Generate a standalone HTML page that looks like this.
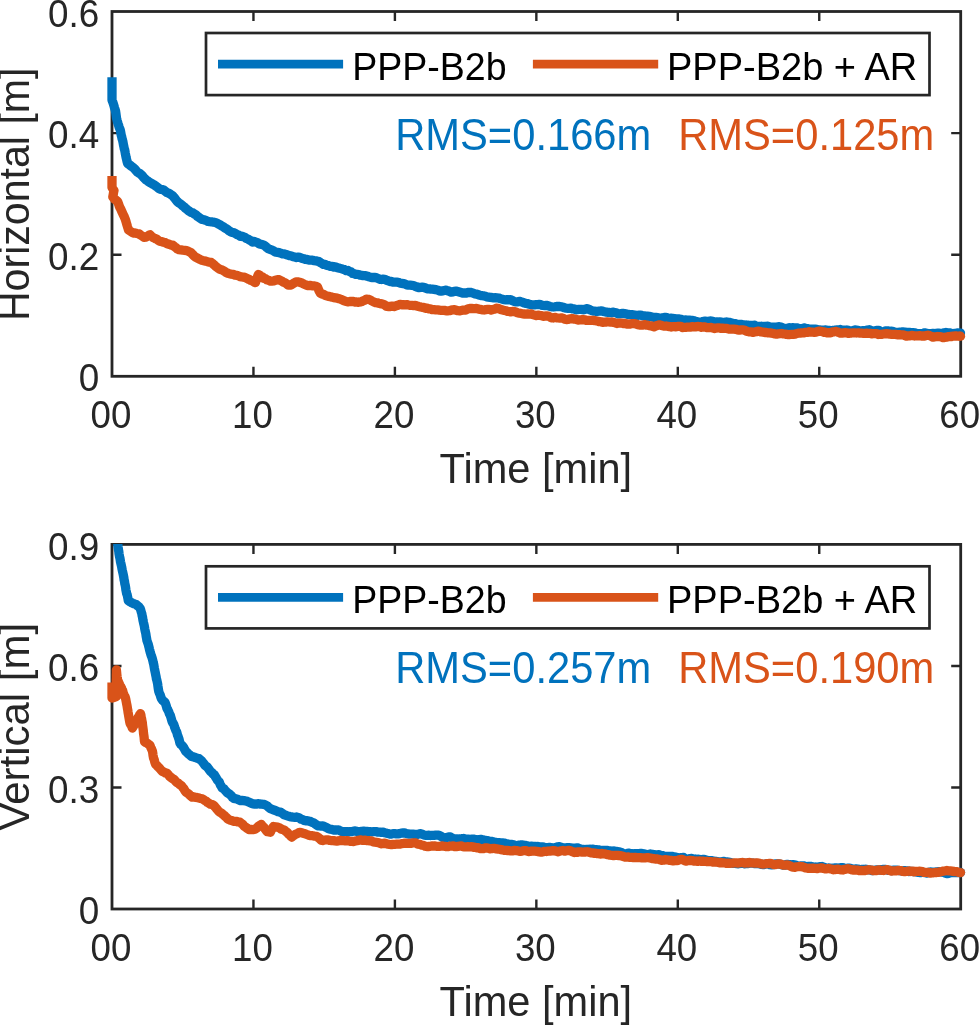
<!DOCTYPE html><html><head><meta charset="utf-8"><style>html,body{margin:0;padding:0;background:#fff;overflow:hidden}svg{display:block;will-change:transform}text{font-family:"Liberation Sans",sans-serif}</style></head><body>
<svg width="979" height="1025" viewBox="0 0 979 1025">
<rect width="979" height="1025" fill="#fff"/>
<defs>
<clipPath id="c0"><rect x="100" y="11.0" width="870.7" height="366.3"/></clipPath>
<clipPath id="c1"><rect x="100" y="543.9" width="870.7" height="366.1"/></clipPath>
</defs>
<path d="M253.45 376.30V366.80M253.45 11.50V21.00M394.90 376.30V366.80M394.90 11.50V21.00M536.35 376.30V366.80M536.35 11.50V21.00M677.80 376.30V366.80M677.80 11.50V21.00M819.25 376.30V366.80M819.25 11.50V21.00M112.00 254.70H121.50M960.70 254.70H951.20M112.00 133.10H121.50M960.70 133.10H951.20" stroke="#262626" stroke-width="2.4" fill="none"/>
<rect x="112.00" y="11.50" width="848.70" height="364.80" fill="none" stroke="#262626" stroke-width="2.8"/>
<text transform="translate(99.3 391.40) scale(0.97 1)" font-size="38" fill="#262626" text-anchor="end">0</text>
<text transform="translate(99.3 269.80) scale(0.97 1)" font-size="38" fill="#262626" text-anchor="end">0.2</text>
<text transform="translate(99.3 148.20) scale(0.97 1)" font-size="38" fill="#262626" text-anchor="end">0.4</text>
<text transform="translate(99.3 26.60) scale(0.97 1)" font-size="38" fill="#262626" text-anchor="end">0.6</text>
<text transform="translate(111.00 428.30) scale(0.965 1)" font-size="38" fill="#262626" text-anchor="middle">00</text>
<text transform="translate(252.45 428.30) scale(0.965 1)" font-size="38" fill="#262626" text-anchor="middle">10</text>
<text transform="translate(393.90 428.30) scale(0.965 1)" font-size="38" fill="#262626" text-anchor="middle">20</text>
<text transform="translate(535.35 428.30) scale(0.965 1)" font-size="38" fill="#262626" text-anchor="middle">30</text>
<text transform="translate(676.80 428.30) scale(0.965 1)" font-size="38" fill="#262626" text-anchor="middle">40</text>
<text transform="translate(818.25 428.30) scale(0.965 1)" font-size="38" fill="#262626" text-anchor="middle">50</text>
<text transform="translate(959.70 428.30) scale(0.965 1)" font-size="38" fill="#262626" text-anchor="middle">60</text>
<text transform="translate(535.85 482.80) scale(0.99 1)" font-size="42" fill="#262626" text-anchor="middle">Time [min]</text>
<text transform="translate(29.4 194.30) rotate(-90) scale(0.979 1)" font-size="42" fill="#262626" text-anchor="middle">Horizontal [m]</text>
<rect x="206" y="33.00" width="723.5" height="62.1" fill="#fff" stroke="#262626" stroke-width="2.7"/>
<path d="M218 64.10H343.1" stroke="#0072BD" stroke-width="8.7"/>
<path d="M532.9 64.10H658.2" stroke="#D95319" stroke-width="8.7"/>
<text transform="translate(352.2 79.80) scale(0.988 1)" font-size="38" fill="#000">PPP-B2b</text>
<text x="667" y="79.80" font-size="38" fill="#000">PPP-B2b + AR</text>
<text transform="translate(395.2 150.00) scale(0.993 1.05)" font-size="42" fill="#0072BD">RMS=0.166m</text>
<text transform="translate(678.2 150.00) scale(0.993 1.05)" font-size="42" fill="#D95319">RMS=0.125m</text>
<path d="M253.45 909.00V899.50M253.45 544.40V553.90M394.90 909.00V899.50M394.90 544.40V553.90M536.35 909.00V899.50M536.35 544.40V553.90M677.80 909.00V899.50M677.80 544.40V553.90M819.25 909.00V899.50M819.25 544.40V553.90M112.00 787.47H121.50M960.70 787.47H951.20M112.00 665.93H121.50M960.70 665.93H951.20" stroke="#262626" stroke-width="2.4" fill="none"/>
<rect x="112.00" y="544.40" width="848.70" height="364.60" fill="none" stroke="#262626" stroke-width="2.8"/>
<text transform="translate(99.3 924.10) scale(0.97 1)" font-size="38" fill="#262626" text-anchor="end">0</text>
<text transform="translate(99.3 802.57) scale(0.97 1)" font-size="38" fill="#262626" text-anchor="end">0.3</text>
<text transform="translate(99.3 681.03) scale(0.97 1)" font-size="38" fill="#262626" text-anchor="end">0.6</text>
<text transform="translate(99.3 559.50) scale(0.97 1)" font-size="38" fill="#262626" text-anchor="end">0.9</text>
<text transform="translate(111.00 961.00) scale(0.965 1)" font-size="38" fill="#262626" text-anchor="middle">00</text>
<text transform="translate(252.45 961.00) scale(0.965 1)" font-size="38" fill="#262626" text-anchor="middle">10</text>
<text transform="translate(393.90 961.00) scale(0.965 1)" font-size="38" fill="#262626" text-anchor="middle">20</text>
<text transform="translate(535.35 961.00) scale(0.965 1)" font-size="38" fill="#262626" text-anchor="middle">30</text>
<text transform="translate(676.80 961.00) scale(0.965 1)" font-size="38" fill="#262626" text-anchor="middle">40</text>
<text transform="translate(818.25 961.00) scale(0.965 1)" font-size="38" fill="#262626" text-anchor="middle">50</text>
<text transform="translate(959.70 961.00) scale(0.965 1)" font-size="38" fill="#262626" text-anchor="middle">60</text>
<text transform="translate(535.85 1015.50) scale(0.99 1)" font-size="42" fill="#262626" text-anchor="middle">Time [min]</text>
<text transform="translate(29.4 726.70) rotate(-90) scale(1.000 1)" font-size="42" fill="#262626" text-anchor="middle">Vertical [m]</text>
<rect x="206" y="566.30" width="723.5" height="62.1" fill="#fff" stroke="#262626" stroke-width="2.7"/>
<path d="M218 597.40H343.1" stroke="#0072BD" stroke-width="8.7"/>
<path d="M532.9 597.40H658.2" stroke="#D95319" stroke-width="8.7"/>
<text transform="translate(352.2 613.10) scale(0.988 1)" font-size="38" fill="#000">PPP-B2b</text>
<text x="667" y="613.10" font-size="38" fill="#000">PPP-B2b + AR</text>
<text transform="translate(395.2 682.90) scale(0.993 1.05)" font-size="42" fill="#0072BD">RMS=0.257m</text>
<text transform="translate(678.2 682.90) scale(0.993 1.05)" font-size="42" fill="#D95319">RMS=0.190m</text>
<g clip-path="url(#c0)" fill="none" stroke-width="9.3" stroke-linejoin="round">
<polyline points="112.0,77.2 112.0,78.8 112.0,80.1 112.0,82.0 112.0,83.4 112.0,85.0 112.0,86.4 112.0,88.2 112.0,89.9 112.0,91.6 112.0,94.1 112.0,95.8 112.0,97.4 112.0,98.7 112.0,100.0 112.7,101.8 113.3,103.7 114.0,105.9 114.5,107.8 115.1,109.5 115.6,111.3 115.9,113.5 116.2,115.6 116.5,118.2 116.9,119.5 117.2,120.8 117.5,121.8 118.0,123.6 118.6,125.3 119.1,127.1 119.7,128.5 120.2,129.8 120.6,131.6 120.9,133.3 121.3,135.5 121.7,136.7 122.0,138.6 122.4,139.6 122.8,141.1 123.1,142.8 123.5,145.0 123.9,146.8 124.2,148.5 124.6,149.5 125.0,151.5 125.3,153.3 125.7,155.4 126.1,157.4 126.6,159.5 127.1,161.5 127.6,163.4 129.0,164.4 130.4,165.5 131.7,166.5 133.1,167.5 134.5,168.7 135.8,170.3 137.1,171.9 138.4,172.8 139.8,173.5 141.1,174.6 142.4,175.9 143.7,177.6 144.9,178.7 146.1,180.0 147.4,180.6 148.6,181.8 149.8,182.5 151.3,183.2 152.9,184.2 154.4,185.1 156.0,186.2 157.5,187.3 159.0,188.5 160.6,189.3 162.1,189.5 163.6,189.9 165.1,191.1 166.7,192.4 168.2,193.0 169.7,193.7 171.3,194.9 172.8,195.9 174.0,197.4 175.2,198.8 176.5,200.7 177.7,201.9 178.9,202.9 180.2,203.8 181.6,204.8 182.9,206.0 184.3,207.0 185.7,208.5 187.0,209.4 188.3,210.6 189.7,211.4 191.2,212.5 192.8,212.8 194.3,214.0 195.8,214.7 197.3,216.3 198.9,217.3 200.4,218.3 201.9,219.3 203.4,219.5 205.0,220.2 206.5,220.7 208.1,221.4 209.6,221.6 211.5,221.8 213.4,222.2 215.3,222.5 217.2,223.3 218.7,224.2 220.3,225.0 221.8,225.9 223.3,226.8 224.9,228.0 226.4,228.7 227.9,229.8 229.5,231.1 231.0,232.0 232.5,232.4 234.1,232.8 235.6,233.6 237.1,234.6 238.7,235.2 240.2,236.3 241.7,236.2 243.3,236.7 244.8,237.3 246.3,238.4 247.9,239.0 249.4,239.9 250.9,240.8 252.5,242.0 254.0,241.5 255.7,242.1 257.5,242.7 259.2,243.8 260.7,244.3 262.3,244.6 263.8,245.1 265.3,246.1 266.8,247.5 268.4,248.7 269.9,249.4 271.4,249.9 273.0,250.5 274.5,251.6 276.0,252.2 277.5,252.4 279.1,252.6 280.6,253.2 282.4,253.8 284.1,253.8 285.9,254.5 287.6,255.0 289.4,255.7 291.1,255.8 292.9,256.7 294.7,257.0 296.5,257.5 298.2,257.2 300.0,257.4 301.8,258.2 303.6,258.7 305.4,259.4 307.1,259.5 308.9,260.0 310.6,260.1 312.4,260.2 314.1,260.6 315.9,260.8 317.4,261.2 318.9,261.6 320.5,262.7 322.0,263.5 323.5,264.4 325.3,264.4 327.0,265.4 328.8,265.7 330.5,266.4 332.3,266.4 334.0,267.1 335.8,266.9 337.5,267.7 339.3,268.1 341.0,268.6 342.8,269.2 344.5,269.6 346.3,270.7 348.0,270.5 349.5,271.6 351.1,271.9 352.6,273.5 354.1,273.7 355.7,274.3 357.2,274.3 358.8,274.5 360.3,275.2 362.1,275.5 363.8,275.6 365.6,275.7 367.3,276.2 369.1,276.9 370.8,277.4 372.6,277.7 374.3,277.4 376.1,277.7 377.8,278.3 379.6,279.3 381.3,279.5 383.1,279.2 384.8,279.3 386.5,280.3 388.2,280.8 389.9,281.5 391.6,281.5 393.2,282.2 394.9,282.2 396.6,282.1 398.3,282.3 400.0,283.1 401.7,283.3 403.4,283.6 405.1,284.0 406.8,284.9 408.5,285.2 410.2,285.1 411.9,285.3 413.6,285.5 415.3,286.4 417.0,287.0 418.7,287.6 420.4,287.3 422.1,287.2 423.8,287.4 425.5,288.0 427.2,288.8 428.9,288.9 430.6,289.0 432.3,289.2 434.0,289.4 435.7,289.7 437.4,290.0 439.2,290.8 440.9,291.1 442.6,290.8 444.3,290.5 446.0,290.2 447.7,290.8 449.3,291.3 451.0,292.2 452.7,291.9 454.3,291.3 456.0,291.1 457.6,291.5 459.3,292.0 461.0,292.5 462.6,293.0 464.3,292.9 466.1,293.2 467.8,292.5 469.6,292.4 471.3,292.5 473.1,293.2 474.8,293.8 476.6,294.1 478.3,294.8 480.0,295.3 481.7,295.7 483.4,295.8 485.1,296.2 486.8,296.8 488.5,297.1 490.2,297.4 491.9,297.5 493.6,297.8 495.3,297.7 497.0,297.8 498.7,298.0 500.4,298.6 502.1,299.1 503.8,299.7 505.5,299.8 507.2,299.6 508.9,299.9 510.6,299.7 512.3,300.6 514.0,301.3 515.8,301.9 517.5,301.9 519.2,301.3 520.9,301.8 522.6,302.2 524.3,303.0 526.0,303.4 527.7,303.7 529.4,304.2 531.1,304.6 532.8,304.8 534.5,304.9 536.2,304.7 537.9,304.6 539.6,304.3 541.4,305.1 543.1,305.5 544.8,305.7 546.5,305.4 548.3,305.8 550.0,306.4 551.6,306.8 553.2,307.0 554.8,306.8 556.4,306.5 558.1,306.5 559.7,306.5 561.3,306.8 562.9,307.2 564.5,307.8 566.1,308.2 567.7,308.3 569.3,308.4 570.9,308.2 572.5,308.8 574.2,308.9 575.8,309.8 577.4,309.6 579.0,309.3 580.6,309.4 582.2,309.5 583.8,309.8 585.4,309.0 587.1,308.7 588.7,309.2 590.3,310.0 591.9,310.6 593.5,311.1 595.1,311.1 596.8,311.6 598.4,311.1 600.0,311.1 601.6,310.8 603.2,311.4 604.8,311.8 606.5,312.2 608.1,312.4 609.7,312.5 611.3,312.8 612.9,312.2 614.6,312.5 616.2,312.8 617.9,313.8 619.5,313.9 621.2,313.7 622.8,313.3 624.4,313.7 626.1,313.9 627.7,314.5 629.4,314.5 631.0,314.7 632.7,314.7 634.3,315.1 635.9,315.5 637.6,315.3 639.2,315.1 640.8,315.1 642.5,315.8 644.1,315.9 645.8,316.3 647.4,316.2 649.0,316.4 650.7,316.7 652.3,317.1 653.9,317.3 655.6,317.3 657.2,317.6 659.0,318.0 660.7,318.3 662.5,317.8 664.2,317.5 666.0,317.4 667.7,318.0 669.5,318.3 671.1,318.2 672.7,318.3 674.3,318.5 675.9,318.8 677.5,318.8 679.1,318.9 680.7,319.3 682.3,319.8 683.9,320.1 685.6,320.0 687.2,320.1 688.8,320.1 690.4,320.5 692.0,320.3 693.6,320.5 695.2,321.2 696.8,321.6 698.4,322.2 700.0,322.2 701.7,322.1 703.4,321.3 705.1,321.1 706.8,321.3 708.5,321.4 710.2,321.0 711.9,321.1 713.6,321.7 715.3,322.1 716.9,321.8 718.6,322.0 720.2,322.0 721.9,322.6 723.5,322.3 725.2,322.5 726.8,322.0 728.4,322.3 730.1,322.4 731.7,323.1 733.4,323.4 735.0,323.6 736.7,324.0 738.3,324.3 739.9,324.3 741.6,324.4 743.2,324.9 744.9,325.3 746.5,325.0 748.2,325.2 749.8,325.5 751.4,325.4 753.1,325.3 754.7,325.2 756.4,326.4 758.0,326.5 759.7,326.5 761.3,326.2 762.9,326.6 764.6,326.5 766.2,326.5 767.9,326.2 769.5,327.0 771.2,327.2 772.8,327.2 774.4,327.1 776.1,327.1 777.7,327.0 779.4,326.7 781.0,327.0 782.7,327.7 784.3,328.7 785.9,328.5 787.6,328.5 789.2,327.7 790.8,328.1 792.5,327.7 794.1,327.9 795.8,327.8 797.4,327.9 799.0,328.9 800.7,328.7 802.3,328.6 803.9,327.9 805.6,328.3 807.2,328.6 808.9,329.0 810.6,329.2 812.3,329.2 814.0,329.2 815.8,329.1 817.5,329.7 819.2,329.8 820.9,330.1 822.6,330.1 824.2,330.1 825.8,329.9 827.4,330.3 829.0,330.3 830.7,330.7 832.3,330.5 833.9,330.4 835.5,330.0 837.1,329.8 838.7,329.9 840.3,329.5 841.9,330.2 843.6,330.2 845.2,330.2 846.8,330.0 848.4,330.3 850.0,331.1 851.6,330.9 853.2,330.6 854.8,329.9 856.4,330.1 858.0,330.3 859.6,330.9 861.2,330.8 862.8,330.7 864.4,330.7 866.0,330.5 867.6,330.0 869.2,329.7 870.8,330.5 872.4,331.3 874.0,331.5 875.6,330.6 877.2,330.4 878.8,330.3 880.4,331.7 882.1,331.9 883.7,331.9 885.3,330.9 886.9,330.9 888.6,331.0 890.2,331.3 891.8,331.2 893.4,331.6 895.0,332.1 896.7,332.3 898.3,332.4 899.9,332.2 901.5,332.0 903.2,332.0 904.8,332.1 906.4,332.4 908.1,332.4 909.7,332.5 911.4,332.6 913.0,332.7 914.7,332.9 916.4,333.3 918.0,333.6 919.7,333.7 921.4,333.5 923.0,333.2 924.7,332.8 926.4,333.2 928.0,333.8 929.7,333.7 931.3,333.7 933.0,333.3 934.6,333.5 936.2,333.3 937.9,333.1 939.5,333.5 941.1,333.3 942.7,333.1 944.3,332.8 945.9,332.5 947.6,332.9 949.2,332.8 950.8,333.3 952.4,333.5 954.0,333.6 955.6,333.4 957.3,332.9 958.9,333.1 960.5,333.1" stroke="#0072BD"/>
<circle cx="960.5" cy="333.1" r="4.65" fill="#0072BD" stroke="none"/>
<polyline points="112.0,175.9 112.0,177.8 112.0,178.9 112.0,181.0 112.0,183.1 112.0,185.9 112.0,187.5 113.0,189.0 114.0,190.5 113.6,192.2 113.2,194.7 112.8,196.9 114.4,199.0 115.9,200.2 117.5,201.3 118.1,202.7 118.7,204.2 119.2,205.9 119.8,207.3 120.4,208.3 121.0,209.7 121.8,211.5 122.6,213.2 123.4,214.9 124.2,216.6 125.0,218.5 125.5,219.9 126.0,221.5 126.5,223.4 127.0,225.0 127.5,226.8 128.0,228.2 128.5,230.0 130.0,231.0 131.5,232.0 133.0,233.0 135.0,233.0 137.0,233.5 139.0,233.9 140.7,235.1 142.3,236.1 144.0,237.4 145.5,237.2 147.0,236.5 148.5,235.5 150.0,234.8 151.7,236.5 153.3,237.6 155.0,238.5 156.7,239.1 158.4,240.5 160.2,241.5 161.9,241.7 163.6,242.2 165.1,242.6 166.7,243.5 168.2,244.0 169.8,244.5 171.3,245.1 172.8,245.1 174.3,246.5 175.9,247.6 177.4,249.0 178.9,249.6 180.8,249.9 182.8,250.2 184.7,250.4 186.6,250.7 188.1,251.2 189.7,251.9 191.2,252.8 192.8,254.6 194.3,256.1 195.8,257.3 197.3,258.0 198.9,258.8 200.4,259.6 201.9,260.3 203.7,260.7 205.6,261.1 207.4,261.7 209.3,262.1 211.1,262.4 212.4,263.4 213.7,264.5 215.0,265.7 216.4,266.9 217.7,267.9 219.0,268.9 220.3,269.4 221.8,269.8 223.4,270.6 224.9,271.6 226.4,272.7 228.0,273.3 229.5,273.7 231.3,274.1 233.2,274.4 235.0,275.1 236.9,275.3 238.7,276.0 240.2,276.6 241.8,276.9 243.3,277.1 244.8,277.4 246.4,278.2 247.9,279.0 249.4,279.5 250.9,280.4 252.5,281.0 254.0,282.1 255.4,282.6 256.0,280.9 256.6,279.3 257.2,277.7 257.8,275.8 258.4,274.6 259.8,275.2 261.1,276.7 262.4,276.8 263.8,278.5 265.3,278.7 266.9,279.8 268.4,280.2 269.9,281.0 271.8,281.1 273.8,280.9 275.7,280.2 277.6,279.6 279.1,279.7 280.7,280.6 282.2,281.3 283.7,282.3 285.2,282.9 286.8,283.9 288.3,285.2 289.8,285.2 291.4,284.7 292.9,283.8 294.5,282.8 296.0,281.8 297.7,281.8 299.5,282.2 301.2,282.7 303.0,283.6 304.7,284.5 306.5,285.2 308.2,285.6 310.0,285.4 311.9,285.8 313.7,285.8 315.6,286.2 317.4,286.8 318.2,288.8 318.9,290.5 319.7,292.0 320.5,293.4 322.0,294.1 323.6,294.3 325.1,295.3 326.6,295.8 328.4,296.4 330.2,296.7 332.0,297.1 333.7,297.6 335.5,297.9 337.3,298.2 339.1,298.7 340.9,299.3 342.6,300.1 344.4,300.8 346.2,301.5 348.0,301.8 349.8,301.5 351.5,301.4 353.3,301.5 355.0,302.0 356.8,302.0 358.5,302.3 360.3,301.9 361.8,301.5 363.4,300.7 364.9,300.1 366.4,299.1 368.2,299.3 370.1,299.9 371.9,301.0 373.8,302.0 375.6,302.7 377.1,302.8 378.7,303.3 380.2,303.6 381.7,303.9 383.3,304.2 384.8,305.1 386.6,306.4 388.5,306.5 390.3,306.6 392.2,306.1 394.0,306.5 396.0,305.8 398.0,305.2 400.0,304.4 401.7,304.8 403.4,304.6 405.1,304.8 406.8,304.6 408.5,305.0 410.2,305.3 411.9,305.4 413.6,305.6 415.3,305.4 417.0,306.0 418.7,306.5 420.4,306.9 422.1,307.4 423.8,307.5 425.5,308.3 427.2,308.2 428.9,308.8 430.6,308.9 432.3,309.7 434.0,309.7 435.7,309.9 437.4,309.8 439.2,310.2 440.9,310.3 442.6,310.4 444.3,310.4 446.0,310.8 447.7,310.8 449.4,310.7 451.1,310.2 452.8,309.9 454.5,309.7 456.2,310.2 457.9,310.7 459.6,310.8 461.3,310.5 463.0,310.2 464.7,310.2 466.4,309.7 468.1,308.8 469.8,308.5 471.5,308.4 473.2,308.6 474.9,308.6 476.6,308.4 478.4,308.9 480.3,309.4 482.1,309.8 484.0,310.0 485.8,309.6 487.6,309.4 489.3,309.4 491.1,310.0 492.8,309.5 494.6,309.2 496.3,308.2 498.1,308.4 499.9,309.1 501.7,309.8 503.6,310.3 505.4,310.5 507.2,311.3 508.9,311.5 510.6,311.8 512.3,311.5 514.0,311.5 515.8,312.0 517.5,312.8 519.2,313.2 520.9,313.4 522.6,313.9 524.3,314.0 526.0,314.1 527.7,313.9 529.4,314.1 531.1,314.0 532.8,314.6 534.5,315.1 536.2,315.6 537.9,315.1 539.6,315.4 541.4,315.6 543.1,316.3 544.8,316.1 546.5,315.8 548.3,316.1 550.0,317.0 551.6,317.8 553.3,318.0 554.9,317.4 556.6,317.8 558.2,318.0 559.9,318.2 561.5,317.9 563.1,318.2 564.8,319.2 566.4,319.6 568.1,319.4 569.7,318.8 571.4,318.7 573.0,318.7 574.6,319.2 576.3,319.4 577.9,320.1 579.6,319.9 581.2,319.9 582.9,319.5 584.5,319.8 586.1,320.3 587.8,320.3 589.4,320.4 591.1,320.4 592.7,320.4 594.4,320.5 596.0,320.8 597.6,321.0 599.2,321.7 600.8,321.6 602.4,322.4 604.1,322.1 605.7,322.1 607.3,321.8 608.9,322.0 610.5,322.2 612.1,322.1 613.7,322.4 615.3,322.9 616.9,323.5 618.5,323.1 620.2,323.2 621.8,323.1 623.4,323.6 625.0,323.3 626.6,324.1 628.2,324.0 629.8,324.2 631.4,323.6 633.0,323.7 634.7,323.7 636.3,324.1 637.9,324.7 639.5,325.1 641.1,325.1 642.7,325.1 644.3,324.6 645.9,325.0 647.5,325.1 649.1,325.6 650.8,325.8 652.4,326.3 654.0,326.8 655.6,326.0 657.2,325.5 659.0,324.8 660.8,325.3 662.6,325.8 664.4,326.2 666.2,326.0 668.0,326.3 669.6,326.6 671.2,327.0 672.8,326.7 674.4,326.6 676.0,326.8 677.6,326.4 679.2,326.3 680.8,326.3 682.4,327.5 684.0,327.4 685.6,327.3 687.2,327.1 688.8,327.2 690.4,327.2 692.0,326.6 693.6,326.9 695.2,326.9 696.8,326.6 698.4,326.5 700.0,326.7 701.6,327.3 703.2,327.0 704.8,326.9 706.4,327.5 708.1,327.6 709.7,327.6 711.3,327.4 712.9,328.1 714.5,328.5 716.1,328.1 717.7,327.9 719.3,327.8 720.9,328.4 722.5,328.2 724.2,328.4 725.8,328.3 727.4,328.6 729.0,329.1 730.6,329.1 732.3,329.1 734.0,329.1 735.7,329.3 737.4,329.8 739.2,330.1 740.9,329.8 742.6,329.8 744.3,330.0 746.0,331.0 747.7,331.5 749.4,331.8 751.1,331.8 752.8,332.4 754.5,332.0 756.2,331.7 757.9,331.2 759.6,331.4 761.3,332.0 763.0,332.2 764.7,332.5 766.4,332.5 768.1,332.8 769.8,332.9 771.5,333.2 773.2,333.5 774.9,333.9 776.6,334.2 778.3,333.8 779.9,333.7 781.6,333.5 783.3,333.8 785.0,334.0 786.6,334.4 788.3,334.6 790.0,334.5 791.7,334.3 793.3,334.4 795.0,334.2 796.8,333.5 798.7,333.2 800.5,333.0 802.4,332.9 804.2,332.8 805.9,332.3 807.5,332.3 809.2,331.7 810.9,332.1 812.6,332.2 814.2,332.3 815.9,332.1 817.6,331.5 819.3,331.1 820.9,331.3 822.6,331.7 824.2,332.3 825.8,332.2 827.4,332.9 829.0,332.7 830.7,332.8 832.3,332.0 833.9,331.9 835.5,331.4 837.1,331.7 838.7,332.5 840.3,333.1 841.9,333.1 843.6,332.8 845.2,332.7 846.8,332.8 848.4,333.4 850.0,333.1 851.7,333.0 853.3,332.8 855.0,332.8 856.6,333.0 858.3,332.8 860.0,333.2 861.6,333.2 863.3,333.3 864.9,333.4 866.6,333.2 868.3,333.3 869.9,333.3 871.6,333.8 873.2,333.6 874.9,333.6 876.5,333.6 878.2,334.5 879.9,334.3 881.5,334.3 883.2,334.0 884.8,333.8 886.5,333.7 888.1,333.8 889.8,334.2 891.4,334.3 893.1,334.3 894.8,334.4 896.4,334.5 898.1,334.9 899.8,334.7 901.4,334.8 903.1,334.8 904.7,335.5 906.4,336.2 908.1,335.9 909.7,335.9 911.4,335.4 913.1,335.7 914.7,336.0 916.4,335.8 918.0,335.8 919.7,335.6 921.4,336.0 923.0,335.9 924.7,336.0 926.3,335.6 928.0,335.2 929.6,335.6 931.3,336.4 933.0,337.2 934.6,336.8 936.3,336.7 937.9,336.5 939.6,336.7 941.2,336.9 942.9,337.5 944.5,337.5 946.2,337.2 948.0,336.7 949.8,336.5 951.6,336.6 953.4,336.1 955.1,336.0 956.9,336.0 958.7,336.2 960.5,336.2" stroke="#D95319"/>
<circle cx="960.5" cy="336.2" r="4.65" fill="#D95319" stroke="none"/>
</g>
<g clip-path="url(#c1)" fill="none" stroke-width="9.3" stroke-linejoin="round">
<polyline points="116.3,528.0 116.5,529.6 116.6,531.4 116.8,532.6 116.9,534.0 117.0,535.8 117.2,538.0 117.3,539.4 117.5,540.5 117.6,542.1 117.8,544.1 118.0,546.5 118.3,548.4 118.5,550.0 118.8,551.4 119.0,553.5 119.3,555.3 119.6,557.0 119.9,557.9 120.2,559.8 120.5,561.8 120.9,563.6 121.3,565.3 121.7,567.0 122.0,568.9 122.4,570.8 122.8,572.5 123.1,573.9 123.5,575.8 123.8,577.4 124.1,579.8 124.5,581.3 124.8,583.6 125.2,585.2 125.6,587.3 125.9,589.9 126.3,591.8 126.7,593.7 127.1,594.5 127.5,596.4 127.9,598.3 128.3,600.6 129.7,601.7 131.2,602.5 132.6,603.2 134.3,603.9 136.0,604.4 137.7,605.8 138.9,606.8 140.2,608.5 140.7,609.9 141.3,612.1 141.8,613.6 142.1,615.5 142.5,617.0 142.8,619.2 143.1,620.8 143.5,622.6 143.8,623.8 144.2,625.5 144.5,627.3 144.9,629.6 145.2,631.0 145.6,632.7 145.9,634.2 146.2,636.4 146.6,638.4 146.9,640.4 147.4,641.9 147.9,643.3 148.4,644.8 148.9,646.8 149.4,649.1 149.9,651.1 150.4,652.9 150.9,654.5 151.4,656.1 152.0,657.6 152.5,659.3 153.0,661.3 153.3,662.8 153.7,664.2 154.0,666.0 154.3,667.8 154.7,669.9 155.0,671.4 155.3,672.8 155.7,674.8 156.1,676.7 156.4,678.8 156.8,680.0 157.1,681.4 157.4,682.7 157.7,684.2 157.9,685.9 158.2,688.0 158.5,689.9 158.8,691.5 159.5,693.4 160.2,694.9 160.8,697.0 161.5,698.8 162.7,700.4 163.8,701.3 165.0,702.3 165.6,703.9 166.3,706.0 166.9,708.1 167.5,709.3 168.2,710.6 168.8,711.9 169.4,713.8 170.1,714.9 170.7,716.6 171.3,718.8 172.0,721.3 172.6,722.6 173.2,723.4 173.9,724.7 174.6,727.1 175.2,728.8 175.8,730.3 176.5,731.5 177.0,733.0 177.5,735.1 178.0,736.2 178.5,737.7 179.0,739.1 179.5,741.3 180.0,743.2 180.9,744.5 181.9,745.2 182.8,746.4 183.7,747.6 184.7,749.4 185.6,751.2 187.1,752.5 188.6,754.1 190.2,755.3 191.7,756.5 193.5,756.9 195.3,757.5 197.1,758.2 198.9,758.6 200.2,759.7 201.4,760.5 202.7,762.2 204.0,763.9 205.0,765.4 206.0,766.2 207.1,766.8 208.1,768.1 209.1,769.5 210.6,771.6 212.2,772.8 213.2,774.1 214.2,774.6 215.2,776.4 216.3,778.1 217.3,779.9 218.3,781.1 219.3,782.0 220.2,784.6 221.2,786.1 222.2,788.0 223.1,788.5 224.1,789.0 225.0,790.2 226.0,791.2 227.3,792.8 228.6,793.3 229.9,794.5 231.3,795.6 232.6,797.5 233.9,798.4 235.2,798.7 236.9,799.0 238.7,799.9 240.4,800.5 242.2,800.5 243.9,800.6 245.7,801.0 247.4,801.4 249.2,802.2 250.9,803.0 252.7,803.9 254.4,804.0 256.2,804.1 257.9,803.7 259.7,804.0 261.6,804.1 263.5,804.3 265.4,804.9 267.3,806.0 268.8,807.5 270.4,808.6 271.9,809.2 273.5,809.8 275.0,810.4 276.5,811.0 278.1,811.7 279.6,812.0 281.1,812.5 282.7,813.6 284.2,814.8 285.9,815.3 287.7,816.0 289.4,816.4 291.2,816.9 292.9,817.2 294.7,817.3 296.4,817.0 297.9,817.4 299.5,817.9 301.0,819.2 302.5,819.5 304.1,820.4 305.6,820.8 307.2,820.7 308.7,821.1 310.2,821.4 311.8,822.3 313.3,822.7 314.8,823.7 316.3,824.8 317.9,825.8 319.4,825.9 321.2,826.1 322.9,825.8 324.7,826.8 326.5,827.6 328.2,828.6 330.0,829.2 331.7,829.4 333.3,830.0 335.0,830.0 336.7,830.0 338.4,829.8 340.0,830.7 341.7,831.4 343.4,831.7 345.1,831.6 346.7,831.6 348.4,831.9 350.1,831.7 351.8,831.6 353.5,831.1 355.2,831.0 356.9,831.4 358.6,831.7 360.3,831.8 362.0,831.3 363.7,831.1 365.3,831.3 366.9,831.4 368.6,831.6 370.2,831.7 371.8,831.8 373.4,831.7 375.1,831.6 376.7,831.7 378.3,832.2 379.9,832.1 381.6,832.4 383.2,832.2 384.8,832.8 386.4,833.1 388.1,833.6 389.7,834.0 391.3,834.1 393.0,833.6 394.6,833.6 396.3,833.8 397.9,833.9 399.6,833.6 401.2,833.1 402.9,833.0 404.6,832.9 406.2,833.5 407.9,833.8 409.5,834.1 411.2,834.2 412.8,834.1 414.4,834.4 416.1,834.4 417.7,834.4 419.3,833.9 420.9,833.7 422.6,834.4 424.2,835.2 425.8,835.3 427.4,835.4 429.1,835.2 430.7,835.5 432.3,835.3 433.9,835.4 435.6,835.2 437.2,835.2 438.8,835.2 440.5,836.0 442.1,837.0 443.8,838.1 445.4,838.1 447.1,837.4 448.7,836.9 450.3,837.0 452.0,838.1 453.6,838.5 455.3,838.8 456.9,838.8 458.6,839.0 460.2,839.0 461.8,838.7 463.5,838.5 465.1,839.0 466.8,839.2 468.4,839.2 470.1,839.3 471.8,839.2 473.4,839.1 475.1,839.5 476.7,839.7 478.4,840.1 480.0,839.4 481.6,839.5 483.2,839.9 484.8,840.2 486.4,840.8 488.1,840.7 489.7,841.4 491.3,841.3 492.9,841.7 494.5,842.2 496.1,842.4 497.7,842.9 499.3,842.7 500.9,842.8 502.5,842.9 504.2,843.1 505.8,843.5 507.4,843.8 509.0,844.6 510.6,844.5 512.2,844.5 513.8,844.8 515.4,845.7 517.1,845.7 518.7,845.2 520.3,845.0 521.9,844.9 523.5,845.2 525.1,845.3 526.8,845.7 528.4,846.2 530.0,846.4 531.6,846.2 533.2,846.3 534.8,846.3 536.5,846.6 538.1,846.5 539.7,846.8 541.3,846.8 542.9,846.8 544.6,847.5 546.2,847.6 547.8,847.6 549.5,847.4 551.1,847.7 552.7,847.9 554.4,847.9 556.0,847.2 557.6,846.9 559.3,846.7 560.9,847.3 562.5,847.8 564.2,847.9 565.8,847.8 567.4,847.6 569.0,847.6 570.6,847.8 572.2,848.1 573.8,848.2 575.4,848.0 577.0,847.8 578.6,848.3 580.2,848.9 581.8,849.5 583.4,849.5 585.0,849.6 586.6,849.4 588.2,849.5 589.8,849.2 591.4,849.3 593.0,849.1 594.6,849.6 596.2,849.7 597.8,849.9 599.4,850.0 601.0,850.6 602.6,850.5 604.2,850.4 605.8,850.4 607.4,850.5 609.0,851.0 610.7,850.9 612.3,851.3 613.9,850.9 615.5,851.4 617.1,851.4 618.7,851.8 620.3,852.3 621.9,852.8 623.6,854.0 625.2,853.8 626.8,853.7 628.4,853.1 630.0,853.5 631.7,853.7 633.5,853.9 635.2,853.7 636.9,853.6 638.6,853.6 640.3,853.5 642.1,853.5 643.8,853.8 645.5,854.2 647.2,854.7 648.8,854.5 650.5,854.0 652.2,854.3 653.9,854.6 655.6,854.9 657.2,854.9 658.9,854.7 660.6,855.3 662.2,855.5 663.9,856.1 665.5,856.4 667.2,856.5 668.8,856.3 670.5,856.4 672.1,856.4 673.7,856.7 675.4,857.1 677.0,857.5 678.7,858.1 680.3,857.6 682.0,857.7 683.6,857.4 685.2,858.8 686.9,859.1 688.5,858.9 690.2,858.6 691.8,858.4 693.5,859.2 695.1,859.0 696.7,859.3 698.4,859.2 700.0,859.6 701.7,859.6 703.3,859.4 705.0,859.7 706.6,860.2 708.3,860.8 709.9,860.7 711.6,860.7 713.3,861.0 715.0,861.4 716.6,861.5 718.3,861.9 720.0,861.9 721.6,862.0 723.3,861.4 725.0,861.7 726.7,861.8 728.3,862.2 730.0,862.4 731.7,863.1 733.3,863.3 735.0,863.5 736.7,863.7 738.3,863.8 740.0,863.4 741.7,863.1 743.3,862.9 745.0,863.8 746.7,863.4 748.3,863.6 750.0,862.8 751.7,863.2 753.3,863.2 755.0,863.6 756.7,863.5 758.3,863.7 760.0,864.0 761.7,864.4 763.3,864.6 765.0,864.2 766.7,863.8 768.3,863.9 770.0,864.7 771.7,864.9 773.3,864.7 775.0,864.0 776.7,863.9 778.3,863.9 780.0,864.1 781.7,864.8 783.3,865.1 785.0,865.1 786.7,864.4 788.3,864.5 790.0,864.7 791.6,864.9 793.2,864.7 794.8,864.8 796.4,865.4 798.0,865.9 799.6,866.1 801.2,865.9 802.8,865.9 804.4,866.0 806.0,866.7 807.6,866.5 809.2,866.5 810.8,866.4 812.4,866.7 814.0,867.2 815.6,867.0 817.2,867.3 818.8,866.9 820.4,866.7 822.0,866.5 823.6,867.2 825.3,867.8 826.9,868.2 828.5,868.0 830.1,868.1 831.7,868.3 833.4,868.1 835.0,868.0 836.6,868.0 838.2,868.1 839.8,867.9 841.4,867.7 843.0,867.7 844.7,868.3 846.3,868.3 847.9,868.2 849.5,868.1 851.1,868.7 852.8,869.0 854.4,869.2 856.0,868.9 857.6,869.1 859.2,869.4 860.8,869.8 862.5,869.4 864.1,869.5 865.7,869.2 867.3,869.6 868.9,869.9 870.5,870.0 872.1,870.6 873.8,870.3 875.4,870.1 877.0,869.9 878.6,869.9 880.2,870.1 881.9,869.5 883.5,869.3 885.1,869.4 886.7,869.7 888.3,870.3 889.9,870.4 891.5,870.6 893.2,870.2 894.8,870.1 896.4,870.1 898.0,870.3 899.6,870.7 901.2,870.9 902.9,870.9 904.5,870.6 906.1,871.0 907.7,871.0 909.3,871.5 910.9,871.3 912.6,871.5 914.2,871.6 915.8,871.6 917.4,872.4 919.0,872.4 920.6,872.7 922.3,872.0 923.9,872.4 925.5,872.8 927.1,873.1 928.7,872.4 930.4,872.0 932.0,872.1 933.6,872.4 935.2,872.2 936.9,871.8 938.6,871.7 940.3,872.0 941.9,872.2 943.6,872.4 945.3,873.0 947.0,873.6 948.7,873.3 950.4,872.8 952.1,872.4 953.8,872.6 955.4,872.7 957.1,872.6 958.8,872.5 960.5,872.5" stroke="#0072BD"/>
<circle cx="960.5" cy="872.5" r="4.65" fill="#0072BD" stroke="none"/>
<polyline points="112.0,682.5 112.0,684.2 112.0,685.9 112.0,687.4 112.0,689.7 112.0,691.7 112.0,693.1 112.0,694.2 112.0,695.8 112.0,698.0 114.0,697.5 116.0,696.7 116.0,694.7 116.0,693.1 116.1,691.3 116.1,689.7 116.1,688.0 116.2,686.9 116.2,685.2 116.2,683.7 116.2,681.4 116.2,679.9 116.3,678.0 116.3,676.5 116.3,674.6 116.4,673.1 116.4,671.4 116.4,670.0 116.6,671.9 116.8,674.1 117.0,675.9 117.1,677.0 117.3,678.5 117.5,679.6 118.3,681.8 119.1,683.3 119.9,685.1 120.7,686.6 121.5,688.0 122.1,689.5 122.7,690.7 123.2,692.9 123.8,694.2 124.4,695.9 125.0,696.5 125.4,697.9 125.8,699.3 126.2,701.5 126.6,703.6 127.0,705.5 127.2,706.8 127.5,708.7 127.8,710.1 128.0,711.7 128.2,713.0 128.5,714.7 128.8,716.6 129.1,718.3 129.4,720.1 129.7,721.7 130.0,723.1 130.6,724.5 131.2,725.1 131.7,726.3 132.3,728.0 133.1,726.7 134.0,725.3 134.8,723.8 135.7,722.9 136.5,721.1 137.3,719.4 138.1,717.6 138.9,716.5 139.7,714.8 140.5,713.7 140.9,715.1 141.2,717.4 141.6,718.6 141.9,720.6 142.3,722.5 142.5,724.5 142.7,726.3 142.9,727.5 143.1,729.0 143.3,730.5 143.5,733.0 143.7,734.4 143.9,735.7 144.1,737.2 144.3,739.5 144.5,741.6 145.9,742.6 147.2,743.2 148.6,744.3 150.0,745.3 150.8,747.4 151.7,749.3 152.5,751.4 152.8,753.2 153.0,755.1 153.2,756.2 153.5,757.8 154.2,759.7 154.8,762.0 155.5,764.1 156.9,765.5 158.3,767.0 159.7,768.4 161.1,770.1 162.5,771.6 163.9,772.0 165.4,772.9 166.8,773.1 168.2,774.5 169.6,776.3 171.1,777.5 172.5,778.6 174.0,779.4 175.4,781.0 176.9,782.6 178.4,783.3 180.0,784.8 181.5,785.7 182.7,787.3 183.8,788.7 184.9,790.6 186.1,792.2 187.3,792.9 188.6,793.9 189.8,795.1 191.1,796.3 192.3,797.2 194.2,796.9 196.1,797.4 198.0,797.8 199.9,798.3 201.4,798.5 203.0,799.2 204.5,800.3 206.1,801.1 207.6,802.5 209.1,803.3 210.6,804.3 212.2,804.6 213.7,805.2 214.8,806.7 215.9,807.9 217.0,809.3 218.1,810.6 219.2,811.7 220.3,812.5 221.4,813.1 222.7,814.2 223.9,815.1 225.2,816.4 226.5,817.5 227.7,818.9 229.0,819.6 230.5,820.3 232.1,820.6 233.6,821.3 235.2,821.4 236.7,821.5 238.2,822.0 239.8,822.2 241.3,823.4 242.8,824.4 244.3,826.3 245.9,827.3 247.4,828.5 248.9,829.6 251.0,829.4 253.0,829.6 255.1,829.2 256.6,828.2 258.1,826.5 259.7,825.5 261.2,824.4 262.2,825.7 263.2,826.6 264.2,827.7 265.3,829.2 266.3,830.7 267.3,831.7 268.9,831.9 270.4,832.2 271.2,830.3 271.9,828.8 272.7,827.7 273.5,826.5 275.5,826.8 277.6,827.1 279.6,827.8 281.1,829.0 282.6,829.5 284.2,829.9 285.7,831.3 287.2,832.3 288.4,833.9 289.5,834.7 290.6,836.0 291.8,837.1 293.3,835.7 294.9,834.7 296.4,833.9 298.0,833.2 299.5,832.3 301.3,832.6 303.2,833.2 305.0,833.7 306.9,834.5 308.7,835.2 310.6,835.6 312.5,835.7 314.5,836.1 316.4,836.3 317.5,837.1 318.6,837.7 319.8,838.8 320.9,840.1 322.7,840.5 324.5,840.0 326.4,839.8 328.2,839.9 330.0,840.5 331.7,840.7 333.4,840.6 335.1,840.9 336.8,841.1 338.5,840.9 340.2,840.4 341.9,840.6 343.6,840.6 345.3,840.8 347.0,840.6 348.6,840.9 350.3,841.4 351.9,841.4 353.6,841.5 355.2,841.1 356.9,840.7 358.6,840.4 360.2,839.9 361.9,840.3 363.5,840.3 365.2,840.1 366.8,840.6 368.5,840.6 370.1,840.9 371.7,840.9 373.4,841.9 375.0,842.2 376.6,842.4 378.2,842.6 379.9,843.3 381.5,843.8 383.1,843.4 384.8,843.2 386.4,843.8 388.0,844.2 389.7,844.5 391.3,844.7 393.0,844.4 394.8,844.3 396.5,844.2 398.3,844.2 400.0,844.2 401.8,843.6 403.5,843.4 405.3,843.1 407.0,843.3 408.8,843.4 410.5,843.4 412.3,842.9 414.0,842.9 415.8,843.0 417.8,844.1 419.9,844.4 421.9,845.2 423.5,845.4 425.2,846.2 426.8,846.6 428.5,846.5 430.1,846.4 431.8,845.9 433.4,846.1 435.0,845.9 436.7,846.4 438.3,846.3 440.0,846.3 441.6,845.9 443.3,846.2 444.9,846.3 446.5,846.7 448.2,846.6 449.8,846.1 451.5,846.1 453.1,845.9 454.8,846.6 456.4,846.6 458.0,846.3 459.7,846.1 461.3,846.0 463.0,846.6 464.6,846.9 466.3,846.8 467.9,846.7 469.6,846.8 471.4,846.6 473.1,847.3 474.8,847.1 476.5,847.9 478.3,847.7 480.0,848.5 481.6,848.6 483.2,848.7 484.8,848.0 486.4,847.9 488.1,848.1 489.7,848.8 491.3,848.6 492.9,848.5 494.5,848.3 496.1,848.9 497.7,849.0 499.3,849.3 500.9,849.6 502.5,849.9 504.2,850.4 505.8,850.4 507.4,850.5 509.0,850.6 510.6,850.8 512.2,850.9 513.8,850.5 515.4,850.5 517.1,850.7 518.7,851.1 520.3,851.3 521.9,851.1 523.5,850.6 525.1,850.6 526.8,850.9 528.4,851.6 530.0,851.4 531.6,851.1 533.2,851.1 534.8,851.2 536.5,851.3 538.1,851.6 539.7,851.9 541.3,852.2 543.0,851.8 544.7,851.3 546.4,851.5 548.1,851.2 549.8,851.2 551.5,850.9 553.2,850.6 554.9,850.9 556.6,851.3 558.2,851.8 559.8,851.1 561.4,850.8 563.0,850.5 564.7,851.2 566.3,850.8 567.9,850.5 569.5,850.4 571.1,851.2 572.7,851.8 574.3,852.5 575.9,852.1 577.5,852.3 579.1,851.8 580.8,851.9 582.4,852.2 584.0,852.0 585.6,852.0 587.2,851.7 588.8,852.1 590.5,852.8 592.1,852.9 593.8,853.3 595.4,853.1 597.1,853.7 598.7,853.7 600.3,854.1 602.0,853.5 603.6,853.9 605.3,853.8 606.9,854.6 608.6,854.7 610.2,855.2 611.9,855.4 613.5,855.6 615.2,855.4 616.8,855.4 618.5,855.5 620.1,855.6 621.8,856.0 623.4,856.5 625.0,857.0 626.7,857.1 628.4,857.0 630.0,857.4 631.7,857.4 633.4,857.6 635.1,857.3 636.8,857.6 638.5,857.6 640.2,857.6 641.9,857.8 643.6,857.8 645.3,857.8 646.9,857.7 648.6,857.7 650.2,858.1 651.9,858.5 653.5,858.6 655.2,859.0 656.8,858.9 658.4,859.2 660.1,859.8 661.7,860.3 663.4,860.2 665.0,859.7 666.7,859.8 668.3,860.0 669.9,860.4 671.6,860.5 673.2,860.9 674.9,860.7 676.5,860.6 678.2,860.3 679.8,859.6 681.4,859.4 683.1,859.8 684.7,860.7 686.4,861.1 688.0,860.6 689.7,860.4 691.3,860.5 692.9,860.7 694.6,861.2 696.2,861.0 697.9,861.4 699.5,860.9 701.2,861.4 702.8,861.2 704.4,861.3 706.1,861.5 707.7,861.5 709.4,861.7 711.0,861.6 712.7,862.1 714.3,861.9 716.0,862.1 717.7,862.1 719.4,862.9 721.1,862.5 722.8,862.9 724.5,862.9 726.2,863.4 727.9,863.2 729.6,863.4 731.3,863.2 732.9,863.2 734.6,862.8 736.2,862.9 737.9,863.1 739.5,862.8 741.2,862.6 742.9,862.5 744.5,863.1 746.2,862.8 747.8,863.0 749.5,862.4 751.2,862.9 752.8,862.8 754.5,863.1 756.2,863.0 757.9,862.9 759.5,863.3 761.2,863.9 762.9,864.2 764.6,864.0 766.2,863.7 767.9,863.6 769.6,863.4 771.4,863.7 773.1,864.3 774.8,864.6 776.5,864.3 778.3,863.9 780.0,863.9 781.7,864.5 783.3,865.0 785.0,865.1 786.6,864.9 788.3,865.2 789.9,865.8 791.6,866.8 793.2,867.2 794.8,867.3 796.4,866.8 798.0,866.7 799.6,866.5 801.2,866.6 802.8,866.9 804.4,867.5 806.0,868.0 807.6,868.3 809.2,868.2 810.8,868.3 812.4,868.1 814.0,868.4 815.6,868.4 817.2,868.6 818.8,868.3 820.4,868.0 822.0,868.0 823.6,868.5 825.3,868.8 826.9,868.8 828.5,868.4 830.1,868.8 831.7,869.0 833.4,869.8 835.0,869.5 836.6,869.4 838.2,869.1 839.8,869.6 841.4,869.8 843.0,870.0 844.7,869.3 846.3,869.1 847.9,868.7 849.5,869.1 851.1,869.6 852.8,870.0 854.4,869.9 856.0,870.2 857.6,870.0 859.2,870.6 860.8,870.4 862.5,870.7 864.1,870.7 865.7,870.2 867.3,870.1 868.9,869.7 870.5,870.0 872.1,870.2 873.8,870.7 875.4,870.5 877.0,870.5 878.6,869.8 880.2,870.1 881.9,870.3 883.5,870.5 885.1,870.1 886.7,869.6 888.3,870.0 889.9,870.5 891.5,871.0 893.2,870.9 894.8,870.8 896.4,870.9 898.0,870.4 899.6,870.5 901.2,870.7 902.9,871.5 904.5,871.7 906.1,871.4 907.7,871.3 909.3,870.9 910.9,871.5 912.6,871.2 914.2,871.8 915.8,871.3 917.4,871.5 919.0,871.2 920.6,871.4 922.3,871.7 923.9,872.3 925.5,872.3 927.1,872.5 928.7,872.5 930.4,873.1 932.0,872.8 933.6,872.8 935.2,872.5 936.9,872.5 938.5,872.3 940.2,871.8 941.9,871.5 943.6,871.0 945.2,870.8 946.9,870.5 948.6,870.8 950.3,870.9 952.0,871.1 953.7,871.5 955.4,871.6 957.1,871.7 958.8,872.4 960.5,872.6" stroke="#D95319"/>
<circle cx="960.5" cy="872.6" r="4.65" fill="#D95319" stroke="none"/>
</g>
</svg></body></html>
